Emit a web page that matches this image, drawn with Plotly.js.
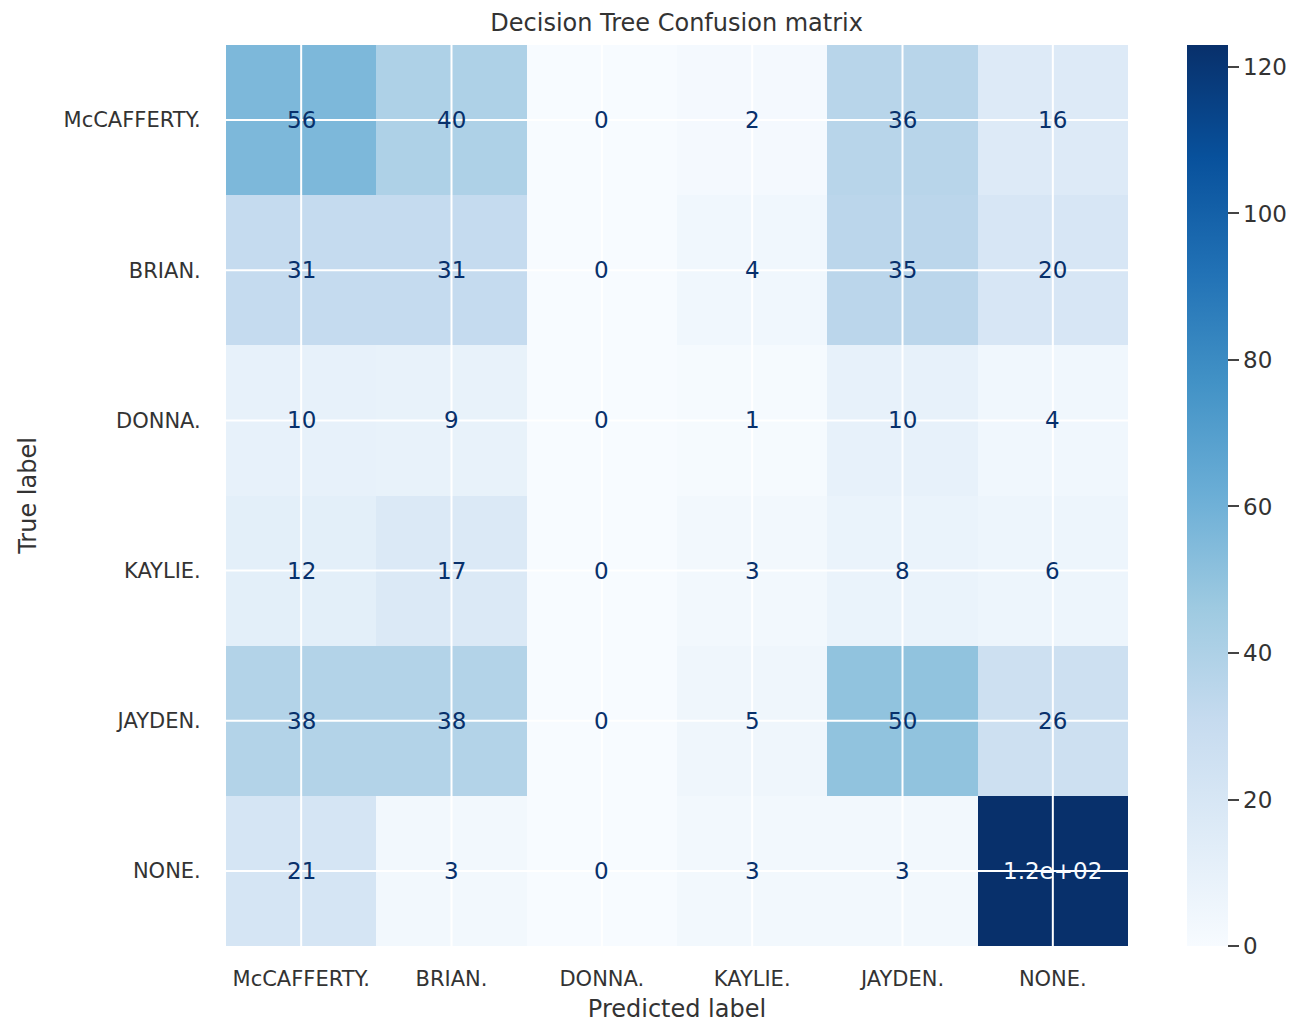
<!DOCTYPE html>
<html>
<head>
<meta charset="utf-8">
<script src="https://cdn.plot.ly/plotly-3.0.1.min.js"></script>
<style>
  html, body { margin: 0; padding: 0; background: #ffffff; }
  #chart { width: 1295px; height: 1023px; }
</style>
</head>
<body>
<div id="chart"></div>
<script>
// Class names (same order for true and predicted labels)
const classLabels = ['McCAFFERTY.', 'BRIAN.', 'DONNA.', 'KAYLIE.', 'JAYDEN.', 'NONE.'];

// Confusion-matrix rows: counts for each true label across predicted labels
const rowMcCafferty = [56, 40, 0, 2, 36, 16];
const rowBrian      = [31, 31, 0, 4, 35, 20];
const rowDonna      = [10,  9, 0, 1, 10,  4];
const rowKaylie     = [12, 17, 0, 3,  8,  6];
const rowJayden     = [38, 38, 0, 5, 50, 26];
const rowNone       = [21,  3, 0, 3,  3, 123];

const counts = [rowMcCafferty, rowBrian, rowDonna, rowKaylie, rowJayden, rowNone];

// matplotlib "Blues"
const blues = [
  [0.000, '#f7fbff'], [0.125, '#deebf7'], [0.250, '#c6dbef'],
  [0.375, '#9ecae1'], [0.500, '#6baed6'], [0.625, '#4292c6'],
  [0.750, '#2171b5'], [0.875, '#08519c'], [1.000, '#08306b']
];

// two significant digits, like Python's '.2g'
function fmt2g(v) {
  if (Number.isInteger(v) && Math.abs(v) < 100) return String(v);
  const s = v.toExponential(1);
  return s.replace(/e([+-])(\d)$/, 'e$10$2');
}

const zMin = 0;
const zMax = Math.max(...counts.flat());
const threshold = (zMax + zMin) / 2;

const FONT = 'DejaVu Sans, sans-serif';

// cell value labels
const annotations = [];
counts.forEach((row, i) => {
  row.forEach((v, j) => {
    annotations.push({
      x: classLabels[j], y: classLabels[i], xref: 'x', yref: 'y',
      text: fmt2g(v), showarrow: false,
      font: { family: FONT, size: 23, color: v > threshold ? '#f7fbff' : '#08306b' }
    });
  });
});

// white grid lines drawn over the cells, through every category centre
const shapes = [];
classLabels.forEach(c => {
  shapes.push({ type: 'line', layer: 'above', xref: 'x', yref: 'y domain',
    x0: c, x1: c, y0: 0, y1: 1, line: { color: '#ffffff', width: 2 } });
  shapes.push({ type: 'line', layer: 'above', xref: 'x domain', yref: 'y',
    x0: 0, x1: 1, y0: c, y1: c, line: { color: '#ffffff', width: 2 } });
});

const trace = {
  type: 'heatmap',
  x: classLabels,
  y: classLabels,
  z: counts,
  zmin: zMin,
  zmax: zMax,
  colorscale: blues,
  xgap: 0, ygap: 0,
  hoverinfo: 'x+y+z',
  colorbar: {
    x: 1.0654, xanchor: 'left', xref: 'paper',
    y: 0, yanchor: 'bottom', len: 1, lenmode: 'fraction',
    xpad: 0, ypad: 0,
    thickness: 41, outlinewidth: 0,
    tickmode: 'array', tickvals: [0, 20, 40, 60, 80, 100, 120],
    ticks: 'outside', ticklen: 11, tickwidth: 2, tickcolor: '#444444',
    tickfont: { family: FONT, size: 23, color: '#333333' }
  }
};

const layout = {
  width: 1295, height: 1023,
  margin: { l: 226, r: 167, t: 45, b: 77, autoexpand: false },
  paper_bgcolor: '#ffffff',
  plot_bgcolor: '#ffffff',
  title: {
    text: 'Decision Tree Confusion matrix',
    font: { family: FONT, size: 24, color: '#333333' },
    x: 0.5225, xanchor: 'center', y: 0.978, yanchor: 'middle'
  },
  xaxis: {
    type: 'category',
    tickfont: { family: FONT, size: 21, color: '#333333' },
    ticks: 'outside', ticklen: 14, tickcolor: 'rgba(0,0,0,0)',
    showgrid: false, zeroline: false, showline: false,
    title: { text: 'Predicted label', standoff: 11,
             font: { family: FONT, size: 24, color: '#333333' } }
  },
  yaxis: {
    type: 'category',
    autorange: 'reversed',
    tickfont: { family: FONT, size: 21, color: '#333333' },
    ticks: 'outside', ticklen: 20, tickcolor: 'rgba(0,0,0,0)',
    showgrid: false, zeroline: false, showline: false,
    title: { text: 'True label', standoff: 20,
             font: { family: FONT, size: 24, color: '#333333' } }
  },
  annotations: annotations,
  shapes: shapes
};

Plotly.newPlot('chart', [trace], layout, { displayModeBar: false, staticPlot: true });
</script>
</body>
</html>
